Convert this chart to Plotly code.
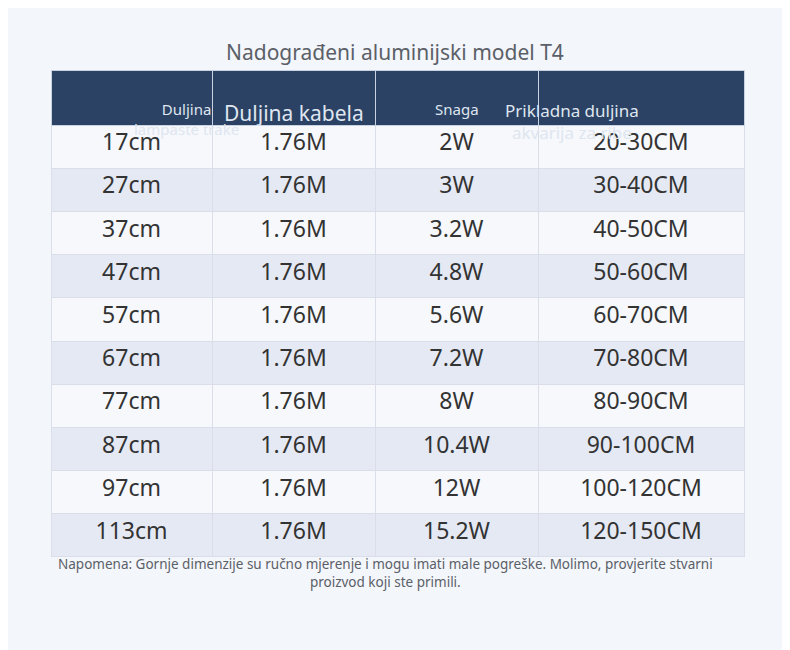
import plotly.graph_objects as go

headers = ["Duljina<br>lampaste trake", "Duljina kabela", "Snaga", "Prikladna duljina<br>akvarija za ribe"]
header_sizes = [15, 21, 15, 17]
strip_len = ["17cm", "27cm", "37cm", "47cm", "57cm", "67cm", "77cm", "87cm", "97cm", "113cm"]
cable_len = ["1.76M"] * 10
power = ["2W", "3W", "3.2W", "4.8W", "5.6W", "7.2W", "8W", "10.4W", "12W", "15.2W"]
tank_len = ["20-30CM", "30-40CM", "40-50CM", "50-60CM", "60-70CM", "70-80CM",
            "80-90CM", "90-100CM", "100-120CM", "120-150CM"]

W, H = 790, 650
OFF = 8  # page body margin
FONT = "Noto Sans"
col_edges = [51, 212, 375, 538, 744]
row_fill = ["#f6f8fc" if i % 2 == 0 else "#e5e9f3" for i in range(len(strip_len))]


def px(x):
    return (x - OFF) / W


def py(y):
    return 1 - (y - OFF) / H


fig = go.Figure(go.Table(
    domain=dict(x=[px(col_edges[0]), px(col_edges[-1])], y=[py(557), py(70)]),
    columnwidth=[b - a for a, b in zip(col_edges[:-1], col_edges[1:])],
    header=dict(
        values=[""] * 4,
        fill_color="#2c4264",
        line_color="#c9d2e0",
        height=55,
    ),
    cells=dict(
        values=[strip_len, cable_len, power, tank_len],
        fill_color=[row_fill] * 4,
        line_color="#d9dee8",
        font=dict(family=FONT, color="#333", size=23),
        align="center",
        height=43.2,
    ),
))

for i, h in enumerate(headers):
    fig.add_annotation(text=h, xref="paper", yref="paper",
                       x=px((col_edges[i] + col_edges[i + 1]) / 2), y=py(97.5),
                       showarrow=False, align="center",
                       font=dict(family=FONT, size=header_sizes[i], color="#dfe6f0"))

fig.add_shape(type="rect", xref="paper", yref="paper",
              x0=px(155), x1=px(745), y0=py(4), y1=py(0),
              fillcolor="#f1d3d7", line_width=0)

fig.add_annotation(text="Nadograđeni aluminijski model T4", xref="paper", yref="paper",
                   x=px(395), y=py(36), showarrow=False,
                   font=dict(family=FONT, size=21, color="#5b6068"))
fig.add_annotation(text="Napomena: Gornje dimenzije su ručno mjerenje i mogu imati male pogreške. Molimo, provjerite stvarni<br>proizvod koji ste primili.",
                   xref="paper", yref="paper", x=px(385), y=py(593), showarrow=False,
                   align="center", font=dict(family=FONT, size=13.5, color="#5b6068"))

fig.update_layout(width=W, height=H, margin=dict(l=0, r=0, t=0, b=0),
                  paper_bgcolor="#f3f6fb", plot_bgcolor="#f3f6fb")

fig.write_html("out.html")
